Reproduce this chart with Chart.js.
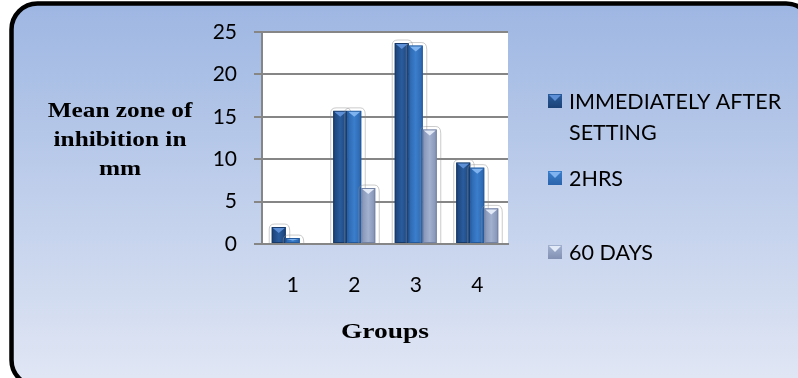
<!DOCTYPE html>
<html>
<head>
<meta charset="utf-8">
<script src="https://cdn.jsdelivr.net/npm/chart.js@4.4.0/dist/chart.umd.min.js"></script>
<style>
  html, body { margin: 0; padding: 0; background: #ffffff; overflow: hidden; }
  #wrap { width: 798px; height: 378px; position: relative; }
</style>
</head>
<body>
<div id="wrap"><canvas id="c" width="798" height="378"></canvas></div>
<script>
// Mean zone of inhibition (mm) per group, at three time points
const groups = ['1', '2', '3', '4'];
const seriesNames = ['IMMEDIATELY AFTER SETTING', '2HRS', '60 DAYS'];
const legendLines = [['IMMEDIATELY AFTER', 'SETTING'], ['2HRS'], ['60 DAYS']];
const immediately = [2.0, 15.7, 23.7, 9.6];
const twoHours = [0.7, 15.7, 23.4, 9.0];
const sixtyDays = [0, 6.6, 13.5, 4.2];
const yTicks = [0, 5, 10, 15, 20, 25];
const yTitleLines = ['Mean zone of', 'inhibition in', 'mm'];
const xTitle = 'Groups';

// bar palettes: [edge, middle, outline, bevel]
const palettes = [
  ['#1b4276', '#2a5c9d', '#173a69', '#5c8fd6'],
  ['#2a64ac', '#3b7ecb', '#245a9c', '#7fb3ef'],
  ['#8291b3', '#a3b1d0', '#7482a3', '#e2e9f7']
];

const SANS = 'Lato, "Open Sans", sans-serif';
const SERIF = '"Liberation Serif", "DejaVu Serif", serif';

const framePlugin = {
  id: 'frame',
  beforeDraw(chart) {
    const ctx = chart.ctx;
    const W = chart.width, H = chart.height;
    ctx.save();
    ctx.fillStyle = '#ffffff';
    ctx.fillRect(0, 0, W, H);
    // rounded panel; its right and bottom edges run past the canvas
    const x0 = 11.5, y0 = 3.5, x1 = 812, y1 = 386, r = 26;
    ctx.beginPath();
    ctx.moveTo(x0 + r, y0);
    ctx.lineTo(x1 - r, y0);
    ctx.arcTo(x1, y0, x1, y0 + r, r);
    ctx.lineTo(x1, y1 - r);
    ctx.arcTo(x1, y1, x1 - r, y1, r);
    ctx.lineTo(x0 + r, y1);
    ctx.arcTo(x0, y1, x0, y1 - r, r);
    ctx.lineTo(x0, y0 + r);
    ctx.arcTo(x0, y0, x0 + r, y0, r);
    ctx.closePath();
    const g = ctx.createLinearGradient(0, 0, 0, H);
    g.addColorStop(0, '#9db6e2');
    g.addColorStop(1, '#e0e6f4');
    ctx.fillStyle = g;
    ctx.fill();
    ctx.lineWidth = 4.5;
    ctx.strokeStyle = '#000000';
    ctx.stroke();
    // white plotting area
    const a = chart.chartArea;
    ctx.fillStyle = '#ffffff';
    ctx.fillRect(a.left, a.top, a.right - a.left, a.bottom - a.top);
    ctx.restore();
  }
};

function shadeBar(ctx, x, w, top, bottom, pal) {
  // faint soft outline around the bar top
  ctx.strokeStyle = 'rgba(140,140,140,0.45)';
  ctx.lineWidth = 1;
  ctx.beginPath();
  ctx.moveTo(x - 2.5, bottom);
  ctx.lineTo(x - 2.5, top + 2);
  ctx.quadraticCurveTo(x - 2.5, top - 3, x + 3, top - 3);
  ctx.lineTo(x + w - 1, top - 3);
  ctx.quadraticCurveTo(x + w + 4, top - 3, x + w + 4, top + 4);
  ctx.lineTo(x + w + 4, bottom);
  ctx.stroke();

  const g = ctx.createLinearGradient(x, 0, x + w, 0);
  g.addColorStop(0, pal[0]);
  g.addColorStop(0.5, pal[1]);
  g.addColorStop(1, pal[0]);
  ctx.fillStyle = g;
  ctx.fillRect(x, top, w, bottom - top);
  ctx.strokeStyle = pal[2];
  ctx.lineWidth = 1;
  ctx.strokeRect(x + 0.5, top + 0.5, w - 1, bottom - top - 1);
  // bevelled top face
  const th = Math.min(6, (bottom - top) / 2);
  if (th > 1) {
    ctx.fillStyle = pal[3];
    ctx.beginPath();
    ctx.moveTo(x + 1, top + 1);
    ctx.lineTo(x + w - 1, top + 1);
    ctx.lineTo(x + w / 2, top + th);
    ctx.closePath();
    ctx.fill();
  }
}

const shadePlugin = {
  id: 'shade',
  afterDatasetsDraw(chart) {
    const ctx = chart.ctx;
    ctx.save();
    chart.data.datasets.forEach((ds, i) => {
      const meta = chart.getDatasetMeta(i);
      meta.data.forEach(bar => {
        const p = bar.getProps(['x', 'y', 'base', 'width'], true);
        if (p.base - p.y < 0.5) return;
        shadeBar(ctx, p.x - p.width / 2, p.width, p.y, p.base, palettes[i]);
      });
    });
    ctx.restore();
  }
};

const textPlugin = {
  id: 'texts',
  afterDraw(chart) {
    const ctx = chart.ctx;
    ctx.save();
    ctx.fillStyle = '#000000';
    // vertical-axis title, three centred lines
    ctx.font = 'bold 22px ' + SERIF;
    ctx.textAlign = 'center';
    ctx.textBaseline = 'alphabetic';
    yTitleLines.forEach((line, k) => {
      ctx.save();
      ctx.translate(120, 117 + k * 29);
      ctx.scale(1.15, 1);
      ctx.fillText(line, 0, 0);
      ctx.restore();
    });
    // horizontal-axis title
    const a = chart.chartArea;
    ctx.save();
    ctx.translate((a.left + a.right) / 2, 338);
    ctx.scale(1.25, 1);
    ctx.fillText(xTitle, 0, 0);
    ctx.restore();
    // legend
    const rows = [109, 186, 260];
    ctx.font = '21.5px ' + SANS;
    ctx.textAlign = 'left';
    chart.data.datasets.forEach((ds, i) => {
      const base = rows[i];
      const pal = palettes[i];
      const sx = 548, sy = base - 15, s = 14;
      const g = ctx.createLinearGradient(0, sy, 0, sy + s);
      g.addColorStop(0, pal[1]);
      g.addColorStop(1, pal[0]);
      ctx.fillStyle = g;
      ctx.fillRect(sx, sy, s, s);
      ctx.fillStyle = pal[3];
      ctx.beginPath();
      ctx.moveTo(sx + 1, sy + 1);
      ctx.lineTo(sx + s - 1, sy + 1);
      ctx.lineTo(sx + s / 2, sy + s / 2);
      ctx.closePath();
      ctx.fill();
      ctx.fillStyle = '#000000';
      legendLines[i].forEach((t, k) => ctx.fillText(t, 569, base + k * 31));
    });
    ctx.restore();
  }
};

const gridGray = '#868686';

new Chart(document.getElementById('c'), {
  type: 'bar',
  data: {
    labels: groups,
    datasets: [
      { label: seriesNames[0], data: immediately, backgroundColor: 'rgba(0,0,0,0)' },
      { label: seriesNames[1], data: twoHours, backgroundColor: 'rgba(0,0,0,0)' },
      { label: seriesNames[2], data: sixtyDays, backgroundColor: 'rgba(0,0,0,0)' }
    ]
  },
  options: {
    responsive: false,
    animation: false,
    devicePixelRatio: 1,
    layout: { padding: { left: 200, right: 290, top: 32, bottom: 0 } },
    datasets: { bar: { categoryPercentage: 0.683, barPercentage: 1.0, borderWidth: 0 } },
    plugins: { legend: { display: false }, tooltip: { enabled: false }, title: { display: false } },
    scales: {
      x: {
        grid: { display: false, drawTicks: false },
        border: { display: true, color: gridGray, width: 2 },
        ticks: { color: '#000', font: { family: SANS, size: 21 }, padding: 29 },
        afterFit(s) { s.height = 134; }
      },
      y: {
        min: 0, max: 25,
        afterBuildTicks(s) { s.ticks = yTicks.map(v => ({ value: v })); },
        grid: { color: gridGray, lineWidth: 2, tickLength: 8, drawTicks: true },
        border: { display: true, color: gridGray, width: 2 },
        ticks: { color: '#000', font: { family: SANS, size: 21 }, padding: 17 },
        afterFit(s) { s.width = 62; }
      }
    }
  },
  plugins: [framePlugin, shadePlugin, textPlugin]
});
</script>
</body>
</html>
